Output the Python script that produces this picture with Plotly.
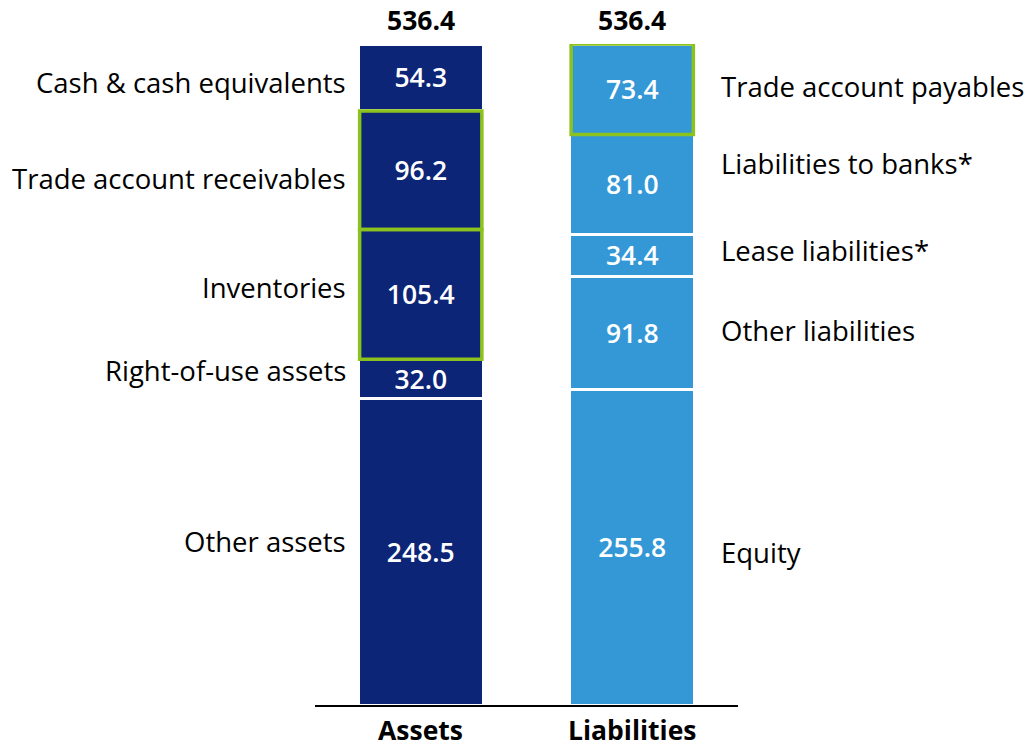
import plotly.graph_objects as go

categories = ["Assets", "Liabilities"]
asset_items = ["Other assets", "Right-of-use assets", "Inventories",
               "Trade account receivables", "Cash & cash equivalents"]
asset_values = [248.5, 32.0, 105.4, 96.2, 54.3]
liab_items = ["Equity", "Other liabilities", "Lease liabilities*",
              "Liabilities to banks*", "Trade account payables"]
liab_values = [255.8, 91.8, 34.4, 81.0, 73.4]
totals = [536.4, 536.4]
highlighted = ["Inventories", "Trade account receivables", "Trade account payables"]

# styling (label nudges in px, not data)
asset_label_shift = [10, 9, 7, -8, -5]
liab_label_shift = [-5, 3, 5, 21, 3]

NAVY = "#0C2577"
LIGHT = "#3497D6"
GREEN = "#8CC21E"
FONT = "Open Sans"
FS = 26.5
FS_SIDE = 27.5
BAR_W = 0.59

fig = go.Figure()
shapes = []
annotations = []

def add_stack(cat_idx, items, values, color, shifts, side):
    cum = 0.0
    for name, v, sh in zip(items, values, shifts):
        fig.add_trace(go.Bar(
            x=[categories[cat_idx]], y=[v], name=name, width=BAR_W,
            marker=dict(color=color, line=dict(color="white", width=3)),
            text=[f"{v:.1f}"], textposition="inside", insidetextanchor="middle",
            constraintext="none", textangle=0,
            textfont=dict(family=FONT, size=FS, color="white", weight=600),
            hoverinfo="name+y", showlegend=False))
        mid = cum + v / 2
        if side == "left":
            annotations.append(dict(x=cat_idx, y=mid, xref="x", yref="y", text=name,
                                    showarrow=False, xanchor="right", xshift=-73, yshift=sh,
                                    font=dict(family=FONT, size=FS_SIDE, color="black")))
        else:
            annotations.append(dict(x=cat_idx, y=mid, xref="x", yref="y", text=name,
                                    showarrow=False, xanchor="left", xshift=87, yshift=sh,
                                    font=dict(family=FONT, size=FS_SIDE, color="black")))
        if name in highlighted:
            shapes.append(dict(type="rect", xref="x", yref="y",
                               x0=cat_idx - BAR_W / 2 + 0.006, x1=cat_idx + BAR_W / 2 - 0.006,
                               y0=cum, y1=cum + v,
                               line=dict(color=GREEN, width=3.5), fillcolor="rgba(0,0,0,0)"))
        cum += v

add_stack(0, asset_items, asset_values, NAVY, asset_label_shift, "left")
add_stack(1, liab_items, liab_values, LIGHT, liab_label_shift, "right")

for i, (c, t) in enumerate(zip(categories, totals)):
    annotations.append(dict(x=i, y=t, xref="x", yref="y", text=f"<b>{t:.1f}</b>",
                            showarrow=False, yanchor="bottom", yshift=4,
                            font=dict(family=FONT, size=FS, color="black")))
    annotations.append(dict(x=i, y=0, xref="x", yref="y", text=f"<b>{c}</b>",
                            showarrow=False, yanchor="top", yshift=-6, borderpad=0,
                            font=dict(family=FONT, size=FS, color="black")))

fig.update_layout(
    width=1031, height=747,
    barmode="stack",
    plot_bgcolor="white", paper_bgcolor="white",
    margin=dict(l=315, r=293, t=44, b=42),
    xaxis=dict(range=[-0.5, 1.5], showticklabels=False, ticks="",
               showline=True, linecolor="black", linewidth=1.5, showgrid=False, zeroline=False),
    yaxis=dict(range=[0, 536.4], visible=False, showgrid=False, zeroline=False),
    shapes=shapes, annotations=annotations,
    font=dict(family=FONT),
)

# remove the browser's default 8px page margin so the figure fills the window
fig.write_html("out.html", config={"displayModeBar": False},
               post_script="document.body.style.margin='0';document.body.style.overflow='hidden';")
